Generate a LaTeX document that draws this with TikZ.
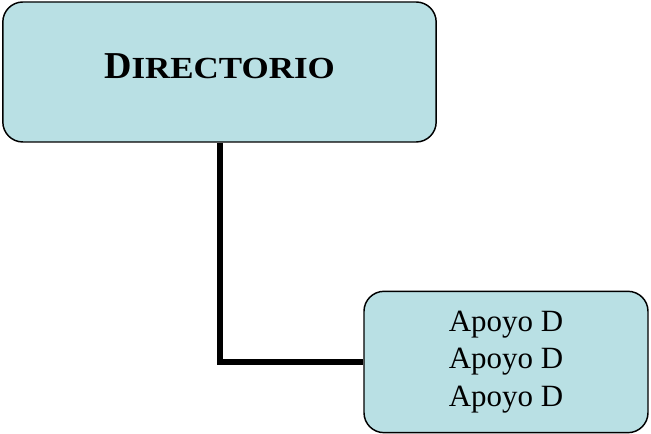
\documentclass[tikz,border=0pt]{standalone}
\usepackage{fontspec}
\usepackage{graphicx}
\setmainfont{Liberation Serif}
\definecolor{boxfill}{RGB}{185,224,228}
\tikzset{
  orgbox/.style={draw=black, line width=1.1pt, fill=boxfill, rounded corners=15pt, inner sep=0pt},
  link/.style={line width=4.4pt, black}
}
\begin{document}
\begin{tikzpicture}[x=0.75pt,y=-0.75pt]
\useasboundingbox (0,0) rectangle (651,434);
\node[orgbox, minimum width=325pt, minimum height=105pt, text depth=9pt] (dir) at (219.5,72)
  {\bfseries\fontsize{28.5pt}{30pt}\selectfont D\fontsize{23pt}{24pt}\selectfont\scalebox{1.14}[1]{IRECTORIO}};
\node[orgbox, minimum width=213pt, minimum height=106pt, align=center,
  font=\fontsize{23.2pt}{28pt}\selectfont] (apo) at (506,362)
  {Apoyo D\\Apoyo D\\Apoyo D};
\coordinate (vx) at (220,0);
\draw[link] (dir.south -| vx) |- (apo.west);
\end{tikzpicture}
\end{document}
